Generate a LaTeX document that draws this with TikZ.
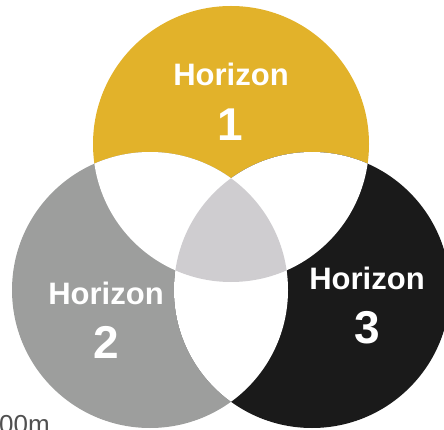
\documentclass[tikz,border=0pt]{standalone}
\usepackage{fontspec}
\setmainfont{Liberation Sans}
\definecolor{hyellow}{HTML}{E2B22A}
\definecolor{hgray}{HTML}{9D9E9D}
\definecolor{hblack}{HTML}{1A1A1A}
\definecolor{hcenter}{HTML}{CFCDD0}
\definecolor{htext}{HTML}{505050}
\tikzset{
  lbl/.style={text=white, font=\bfseries\fontsize{31}{31}\selectfont, anchor=base, inner sep=0pt},
  num/.style={text=white, font=\bfseries\fontsize{46}{46}\selectfont, anchor=base, inner sep=0pt},
}
\begin{document}
\begin{tikzpicture}[x=1pt,y=-1pt]
\useasboundingbox (0,0) rectangle (444,430);
\def\rr{138}
\coordinate (T) at (231,144);
\coordinate (L) at (150,290);
\coordinate (R) at (312,290);
\begin{scope}
\clip (0,0) rectangle (444,430);
\fill[hyellow] (T) circle (\rr);
\fill[hgray] (L) circle (\rr);
\fill[hblack] (R) circle (\rr);
\begin{scope}\clip (T) circle (\rr); \fill[white] (L) circle (\rr); \fill[white] (R) circle (\rr);\end{scope}
\begin{scope}\clip (L) circle (\rr); \fill[white] (R) circle (\rr);\end{scope}
\begin{scope}\clip (T) circle (\rr); \clip (L) circle (\rr); \fill[hcenter] (R) circle (\rr);\end{scope}
\node[text=htext, font=\fontsize{26}{26}\selectfont, anchor=base west, inner sep=0pt] (dist) at (-1,433) {00m};
\end{scope}
\node[lbl] (h1) at (231,86) {Horizon};
\node[num] (n1) at (230,141) {1};
\node[lbl] (h2) at (106,304) {Horizon};
\node[num] (n2) at (106,358) {2};
\node[lbl] (h3) at (367,289) {Horizon};
\node[num] (n3) at (367,343) {3};
\end{tikzpicture}
\end{document}
